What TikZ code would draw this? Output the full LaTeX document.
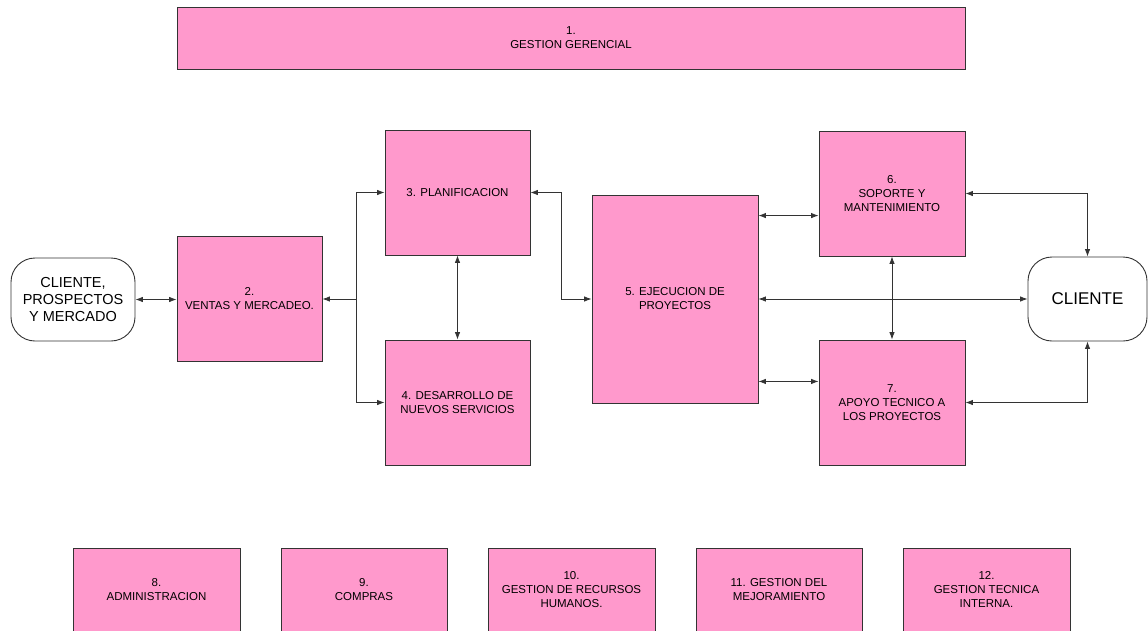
\documentclass[tikz,border=0pt]{standalone}
\usepackage{fontspec}
\setmainfont{Liberation Sans}
\usetikzlibrary{arrows.meta}
\definecolor{pinkfill}{HTML}{FF99CC}
\definecolor{edgegray}{HTML}{333333}
\tikzset{
  pbox/.style={draw=edgegray, line width=0.9pt, fill=pinkfill, inner sep=2pt, align=center,
    font=\fontsize{11.5}{14}\selectfont, anchor=center},
  rbox/.style={draw=edgegray, line width=0.9pt, fill=white, rounded corners=24pt, align=center, inner sep=2pt, anchor=center},
  conn/.style={draw=edgegray, line width=0.8pt},
  biarr/.style={conn, {Latex[length=7.5pt,width=5.5pt]}-{Latex[length=7.5pt,width=5.5pt]}},
  onearr/.style={conn, -{Latex[length=7.5pt,width=5.5pt]}}
}
\begin{document}
\begin{tikzpicture}[x=1pt,y=-1pt]
\clip (0,0) rectangle (1148,630);
\fill[white] (0,0) rectangle (1148,630);
% boxes
\node[pbox, minimum width=788pt, minimum height=62pt] (v1) at (571,38) {1.\\GESTION GERENCIAL};
\node[pbox, minimum width=145pt, minimum height=125pt] (v2) at (249.5,298.5) {2.\\VENTAS Y MERCADEO.};
\node[pbox, minimum width=145pt, minimum height=125pt] (v3) at (457.5,192.5) {\\[-6pt]3. PLANIFICACION};
\node[pbox, minimum width=145pt, minimum height=125pt] (v4) at (457.5,402.5) {4. DESARROLLO DE\\NUEVOS SERVICIOS};
\node[pbox, minimum width=166pt, minimum height=208pt] (v5) at (675,299) {5. EJECUCION DE\\PROYECTOS};
\node[pbox, minimum width=146pt, minimum height=125pt] (v6) at (892,193.5) {6.\\SOPORTE Y\\MANTENIMIENTO};
\node[pbox, minimum width=146pt, minimum height=125pt] (v7) at (892,402.5) {7.\\APOYO TECNICO A\\LOS PROYECTOS};
\node[rbox, minimum width=124pt, minimum height=83pt, font=\fontsize{14.5}{17}\selectfont] (cl) at (73,299.5) {CLIENTE,\\PROSPECTOS\\Y MERCADO};
\node[rbox, minimum width=119pt, minimum height=84pt, font=\fontsize{17}{20}\selectfont] (cr) at (1087.5,299) {CLIENTE};
% bottom boxes (cut by the lower edge)
\node[pbox, minimum width=167pt, minimum height=100pt] (v8) at (156.5,598) {8.\\ADMINISTRACION\\[4pt]};
\node[pbox, minimum width=166pt, minimum height=100pt] (v9) at (364,598) {9.\\COMPRAS\\[4pt]};
\node[pbox, minimum width=167pt, minimum height=100pt] (v10) at (571.5,598) {10.\\GESTION DE RECURSOS\\HUMANOS.\\[4pt]};
\node[pbox, minimum width=166pt, minimum height=100pt] (v11) at (779,598) {11. GESTION DEL\\MEJORAMIENTO\\[4pt]};
\node[pbox, minimum width=167pt, minimum height=100pt] (v12) at (986.5,598) {12.\\GESTION TECNICA\\INTERNA.\\[4pt]};
% connectors
\draw[biarr] (cl.east) -- (cl.east -| v2.west);
\coordinate (jx) at (356,299);
\draw[conn] (jx |- v3.west) -- (jx |- v4.west);
\draw[onearr] (jx |- v3.west) -- (v3.west);
\draw[onearr] (jx |- v4.west) -- (v4.west);
\draw[onearr] (jx) -- (jx -| v2.east);
\draw[biarr] (v3.south) -- (v4.north);
\coordinate (k) at (561,299);
\draw[biarr] (v3.east) -| (k) -- (v5.west);
\draw[biarr] ([yshift=-21pt]v5.north east) -- ([yshift=-21pt]v5.north east -| v6.west);
\draw[biarr] ([yshift=22pt]v5.south east) -- ([yshift=22pt]v5.south east -| v7.west);
\draw[biarr] (v5.east) -- (v5.east -| cr.west);
\draw[biarr] (v6.south) -- (v7.north);
\draw[biarr] (v6.east) -| (cr.north);
\draw[biarr] (v7.east) -| (cr.south);
\end{tikzpicture}
\end{document}
